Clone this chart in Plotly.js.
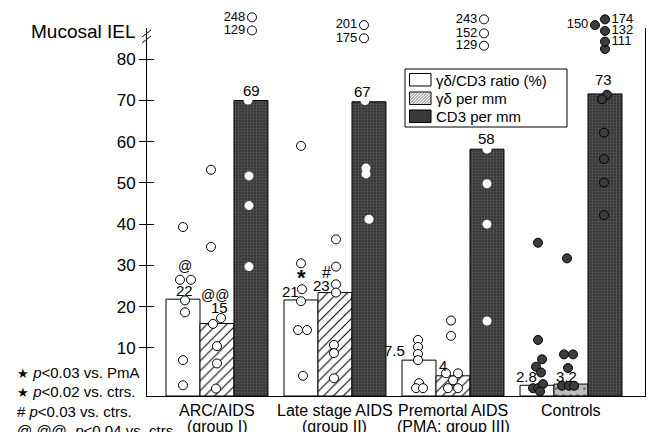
<!DOCTYPE html>
<html><head><meta charset="utf-8">
<script src="https://cdn.plot.ly/plotly-3.0.1.min.js"></script>
<style>html,body{margin:0;padding:0;background:#fff}</style>
</head><body><div id="chart" style="width:648px;height:432px"></div>
<script>
// ---------- data ----------
const groupLine1 = ['ARC/AIDS', 'Late stage AIDS', 'Premortal AIDS', 'Controls'];
const groupLine2 = ['(group I)', '(group II)', '(PMA; group III)', ''];
const seriesNames = ['γδ/CD3 ratio (%)', 'γδ per mm', 'CD3 per mm'];

const ratioBar = [21.8, 21.6, 7.0, 0.9];
const gdBar    = [15.9, 23.4, 3.2, 1.2];
const cd3Bar   = [70.0, 69.7, 58.2, 71.6];

const ratioLabel = ['22', '21', '7.5', '2.8'];
const gdLabel    = ['15', '23', '4', '3.2'];
const cd3Label   = ['69', '67', '58', '73'];

// individual values (per group)
const ratioPts = [[39.3, 26.5, 26.5, 21.5, 18.6, 7.0, 0.9],
                  [59.0, 30.5, 24.2, 21.3, 14.3, 14.3, 3.2],
                  [11.9, 10.2, 8.5, 7.0, 1.4, 0.2, 0.2],
                  [35.5, 11.9, 7.2, 5.4, 4.0, 0.2, 0.2, 1.2, -0.6]];
const gdPts    = [[53.2, 34.5, 15.8, 17.2, 10.4, 6.2, 0.1],
                  [36.3, 29.7, 25.4, 23.4, 10.7, 8.7, 2.6],
                  [16.6, 12.9, 3.8, 3.8, 2.1, 0.2, 0.2],
                  [31.7, 8.4, 8.4, 5.1, 0.8, 0.8, 0.8]];
const cd3Pts   = [[70.1, 51.7, 44.5, 29.7, 83.9],
                  [70.0, 53.6, 52.2, 41.2, 79.2],
                  [58.2, 49.8, 40.0, 16.5],
                  [71.4, 70.3, 62.2, 55.8, 50.1, 42.2, 82.5]];
// values drawn above the axis break (plotted position, printed value)
const brkPos   = [[90.2, 87.0], [88.3, 85.1], [89.7, 86.3, 83.3], [88.3, 89.7, 86.9, 84.3]];
const brkLabel = [['248', '129'], ['201', '175'], ['243', '152', '129'], ['150', '174', '132', '111']];
const yTicks = [10, 20, 30, 40, 50, 60, 70, 80];

// ---------- styling / layout helpers ----------
const ratioJit = [[0, -3, 8, 2, 2, 0, 0], [0, 0, 1, 0, -3, 6, 2], [-1, -1, -1, -1, 0, -3, 4], [1, 1, 5, -1, 4, -4, 1, 6, 3]];
const gdJit    = [[-6, -6, -4, 4, 0, 0, -1], [1, 1, 1, 1, -1, -1, -1], [-2, -2, -7, 5, 0, -5, 5], [-4, -7, 2, -3, -9, -2, 3]];
const cd3Jit   = [[-3, -2, -2, -2, 1], [-4, -3, -3, 0, -5], [0, 0, 0, 0], [2, -3, -1, -1, -1, -1, 0]];
const brkJit   = [[1, 1], [-5, -5], [-3, -3, -3], [-10, 0, 0, 0]];
const brkSide  = [['middle left', 'middle left'], ['middle left', 'middle left'],
                  ['middle left', 'middle left', 'middle left'],
                  ['middle left', 'middle right', 'middle right', 'middle right']];

const FONT = 'Liberation Sans, Arial, Helvetica, sans-serif';
const M = {l: 147, r: 3, t: 5, b: 36};
const PLOT_W = 648 - M.l - M.r;
const PLOT_H = 432 - M.t - M.b;
const AXIS_TOP_PX = 28;
const X_RANGE = [-0.593, 3.627];
const Y_RANGE = [-1.7, 87.6];
const FLOOR = Y_RANGE[0];
const Y_DOM_TOP = (432 - M.b - AXIS_TOP_PX) / PLOT_H;
const PX_PER_Y = (432 - M.b - AXIS_TOP_PX) / (Y_RANGE[1] - Y_RANGE[0]);
const Y3_RANGE = [FLOOR, FLOOR + PLOT_H / PX_PER_Y];
const BARGAP = 0.136;
const BARW = (1 - BARGAP) / 3;
const PX = PLOT_W / (X_RANGE[1] - X_RANGE[0]);
const xIdx = groupLine1.map((g, i) => i);
const ppx = p => (p - M.l) / PLOT_W;
const ppy = p => (432 - M.b - p) / PLOT_H;

const DARK = '#3a3a3a';
const traces = [];
traces.push({type: 'bar', x: xIdx, y: ratioBar.map(v => v - FLOOR), base: FLOOR, name: seriesNames[0],
  marker: {color: '#ffffff', line: {color: '#000', width: 1}}, hoverinfo: 'skip'});
traces.push({type: 'bar', x: xIdx, y: gdBar.map(v => v - FLOOR), base: FLOOR, name: seriesNames[1],
  marker: {color: '#ffffff', line: {color: '#000', width: 1},
    pattern: {shape: ['/', '/', '/', '.'], fgcolor: ['#000', '#000', '#000', '#777'], bgcolor: ['#fff', '#fff', '#fff', '#bdbdbd'], size: 7, solidity: 0.15}},
  hoverinfo: 'skip'});
traces.push({type: 'bar', x: xIdx, y: cd3Bar.map(v => v - FLOOR), base: FLOOR, name: seriesNames[2],
  marker: {color: DARK, line: {color: '#000', width: 1},
    pattern: {shape: '.', fgcolor: '#555555', bgcolor: '#333333', size: 3, solidity: 0.45}},
  hoverinfo: 'skip'});

function addPts(pts, jit, k) {
  pts.forEach((vals, i) => {
    const ctrl = i === 3;
    const inDark = k === 2 && !ctrl;
    traces.push({type: 'scatter', mode: 'markers', showlegend: false, hoverinfo: 'skip', cliponaxis: false,
      x: vals.map((v, j) => i + (k - 1) * BARW + jit[i][j] / PX), y: vals,
      marker: {size: 9, symbol: 'circle',
        color: ctrl ? '#3c3c3c' : '#ffffff',
        line: {color: inDark ? '#ffffff' : '#000', width: inDark ? 0 : 1}}});
  });
}
addPts(ratioPts, ratioJit, 0);
addPts(gdPts, gdJit, 1);
addPts(cd3Pts, cd3Jit, 2);

brkPos.forEach((vals, i) => {
  const ctrl = i === 3;
  traces.push({type: 'scatter', mode: 'markers+text', showlegend: false, hoverinfo: 'skip', cliponaxis: false,
    yaxis: 'y3',
    x: vals.map((v, j) => i + BARW + brkJit[i][j] / PX), y: vals,
    text: brkLabel[i], textposition: brkSide[i], textfont: {family: FONT, size: 13, color: '#000'},
    marker: {size: 9, color: ctrl ? '#3c3c3c' : '#ffffff', line: {color: '#000', width: 1}}});
});

const annotations = [];
const labelSets = [[ratioBar, ratioLabel, [2, -11, -25, -11], [9, 8, 10, 8.5]],
                   [gdBar, gdLabel, [3, -13.5, -10, -5], [16, 7, 10.5, 7.5]],
                   [cd3Bar, cd3Label, [1, -6, 0, -1], [10, 10, 11, 14]]];
labelSets.forEach(([vals, labs, xs, ys], k) => {
  vals.forEach((v, i) => {
    annotations.push({xref: 'x', yref: 'y', x: i + (k - 1) * BARW, y: v, text: labs[i], showarrow: false,
      xanchor: 'center', yanchor: 'middle', xshift: xs[i], yshift: ys[i],
      font: {family: FONT, size: 15, color: '#000'}});
  });
});
const sig = [['@', 0, 0, ratioBar[0], 2, 33, 14], ['@@', 0, 1, gdBar[0], -2, 28, 14],
             ['<b>*</b>', 1, 0, ratioBar[1], 0.5, 22, 22], ['#', 1, 1, gdBar[1], -8.5, 20, 16]];
sig.forEach(([t, i, k, v, xs, ys, fs]) => {
  annotations.push({xref: 'x', yref: 'y', x: i + (k - 1) * BARW, y: v, text: t, showarrow: false,
    xanchor: 'center', yanchor: 'middle', xshift: xs, yshift: ys,
    font: {family: FONT, size: fs, color: '#000'}});
});
xIdx.forEach(i => {
  annotations.push({xref: 'x', yref: 'paper', x: i, y: ppy(410), text: groupLine1[i], showarrow: false,
    xanchor: 'center', yanchor: 'middle', font: {family: FONT, size: 16, color: '#000'}});
  if (groupLine2[i]) annotations.push({xref: 'x', yref: 'paper', x: i, y: ppy(427), text: groupLine2[i], showarrow: false,
    xanchor: 'center', yanchor: 'middle', font: {family: FONT, size: 16, color: '#000'}});
});
annotations.push({xref: 'paper', yref: 'paper', x: ppx(138), y: ppy(31),
  xanchor: 'right', yanchor: 'middle', text: 'Mucosal IEL', showarrow: false,
  font: {family: FONT, size: 19, color: '#000'}});
const notes = ['<span style="font-size:13px">★</span> <i>p</i>&lt;0.03 vs. PmA',
               '<span style="font-size:13px">★</span> <i>p</i>&lt;0.02 vs. ctrs.',
               '# <i>p</i>&lt;0.03 vs. ctrs.',
               '@,@@, <i>p</i>&lt;0.04 vs. ctrs.'];
const noteY = [372, 391.5, 411, 430.5];
notes.forEach((t, j) => {
  annotations.push({xref: 'paper', yref: 'paper', x: ppx(15), y: ppy(noteY[j]),
    xanchor: 'left', yanchor: 'middle', text: t, showarrow: false,
    font: {family: FONT, size: 15, color: '#000'}});
});

const shapes = [
  {type: 'line', xref: 'paper', yref: 'paper', x0: ppx(142), x1: ppx(151), y0: ppy(37), y1: ppy(30), line: {color: '#000', width: 1}},
  {type: 'line', xref: 'paper', yref: 'paper', x0: ppx(142), x1: ppx(151), y0: ppy(43), y1: ppy(36), line: {color: '#000', width: 1}}
];

// ---- legend (box, swatches, texts) ----
const LEG = {x0: 405, x1: 567, y0: 69, y1: 127, sx0: 409.5, sx1: 431, tx: 434};
const swY = [[73.5, 86], [92, 104.5], [110, 122.5]];
const txY = [80.5, 98, 116];
shapes.push({type: 'rect', xref: 'paper', yref: 'paper', x0: ppx(LEG.x0), x1: ppx(LEG.x1), y0: ppy(LEG.y1), y1: ppy(LEG.y0),
  line: {color: '#000', width: 1}, fillcolor: '#fff', layer: 'above'});
const swFill = ['#ffffff', '#ffffff', DARK];
swY.forEach(([a, b], k) => {
  shapes.push({type: 'rect', xref: 'paper', yref: 'paper', x0: ppx(LEG.sx0), x1: ppx(LEG.sx1), y0: ppy(b), y1: ppy(a),
    line: {color: '#000', width: 1}, fillcolor: swFill[k], layer: 'above'});
  annotations.push({xref: 'paper', yref: 'paper', x: ppx(LEG.tx), y: ppy(txY[k]), xanchor: 'left', yanchor: 'middle',
    text: seriesNames[k], showarrow: false, font: {family: FONT, size: 15, color: '#000'}});
});
(function () {
  const [a, b] = swY[1];
  const h = b - a;
  for (let d = -h; d < LEG.sx1 - LEG.sx0; d += 3) {
    let xs = LEG.sx0 + d, ys = b, xe = LEG.sx0 + d + h, ye = a;
    if (xs < LEG.sx0) { ys -= (LEG.sx0 - xs); xs = LEG.sx0; }
    if (xe > LEG.sx1) { ye += (xe - LEG.sx1); xe = LEG.sx1; }
    if (xe <= xs) continue;
    shapes.push({type: 'line', xref: 'paper', yref: 'paper', x0: ppx(xs), x1: ppx(xe), y0: ppy(ys), y1: ppy(ye),
      line: {color: '#444', width: 0.8}, layer: 'above'});
  }
})();

const layout = {
  width: 648, height: 432,
  margin: {l: M.l, r: M.r, t: M.t, b: M.b, pad: 0},
  paper_bgcolor: '#fff', plot_bgcolor: 'rgba(0,0,0,0)',
  barmode: 'group', bargap: BARGAP, bargroupgap: 0,
  font: {family: FONT, color: '#000'},
  showlegend: false,
  xaxis: {range: X_RANGE, tickvals: xIdx, showticklabels: false, ticks: '', showgrid: false, zeroline: false,
    showline: true, linecolor: '#000', linewidth: 1, anchor: 'y'},
  yaxis: {domain: [0, Y_DOM_TOP], range: Y_RANGE, tickvals: yTicks, ticks: 'outside', ticklen: 7, tickcolor: '#000', showgrid: false,
    zeroline: false, showline: true, mirror: true, linecolor: '#000', linewidth: 1,
    tickfont: {family: FONT, size: 17, color: '#000'}},
  yaxis2: {range: Y_RANGE, overlaying: 'y', side: 'left', tickvals: yTicks, ticks: 'inside', ticklen: 7,
    tickcolor: '#000', showticklabels: false, showgrid: false, zeroline: false, showline: false},
  yaxis3: {domain: [0, 1], range: Y3_RANGE, visible: false, anchor: 'x'},
  annotations: annotations,
  shapes: shapes
};
traces.push({type: 'scatter', x: [X_RANGE[0]], y: [Y_RANGE[0]], yaxis: 'y2', mode: 'none', showlegend: false, hoverinfo: 'skip'});

Plotly.newPlot('chart', traces, layout, {staticPlot: true, displayModeBar: false});
</script></body></html>
